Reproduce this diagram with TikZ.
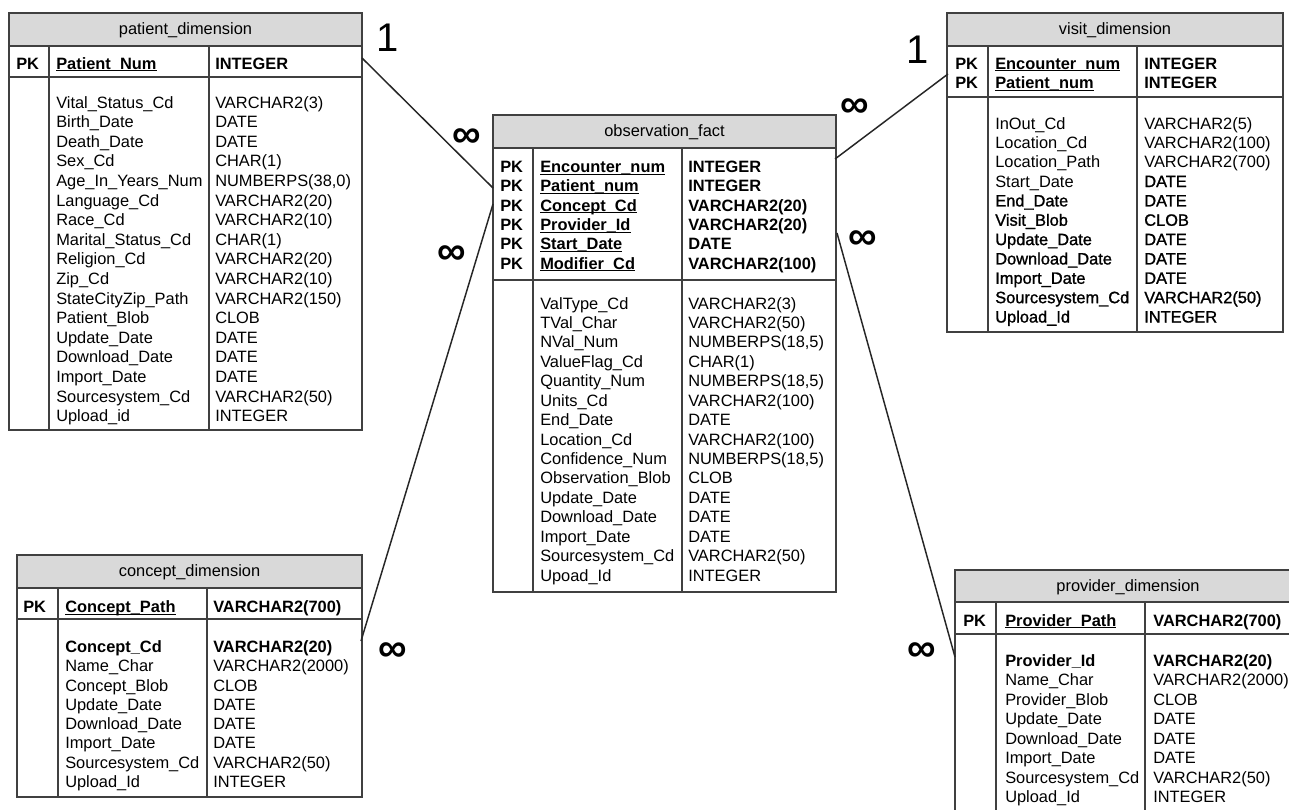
\documentclass[tikz,border=0pt]{standalone}
\usepackage{fontspec}
\setmainfont{Liberation Sans}
\newfontfamily\darkfont[FakeBold=1.2]{Liberation Sans}
\usetikzlibrary{fit}
\newcommand\tbf{\fontsize{12.3}{14}\selectfont}
\newcommand\pkul[1]{\setbox0\hbox{#1}\rlap{\rule[-1.4pt]{\wd0}{0.6pt}}\box0}
\definecolor{hdrgray}{HTML}{D9D9D9}
\definecolor{edgegray}{HTML}{404040}
\tikzset{
 tbox/.style={draw=edgegray, line width=1.1pt, inner sep=0pt},
 thead/.style={draw=edgegray, line width=1.1pt, fill=hdrgray, inner sep=0pt},
 ttitle/.style={inner sep=0pt, font=\tbf},
 tline/.style={draw=edgegray, line width=1.1pt},
 cell/.style={anchor=base west, inner sep=0pt, font=\tbf},
 dcell/.style={anchor=base west, inner sep=0pt, font=\darkfont\tbf},
 bcell/.style={anchor=base west, inner sep=0pt, font=\tbf\bfseries},
 conn/.style={draw=black!85, line width=1.1pt},
 mult/.style={font=\fontsize{30}{32}\selectfont, inner sep=0pt},
 multb/.style={font=\fontsize{30}{32}\selectfont\bfseries, inner sep=0pt},
}
% name, x1, y1, x2, y2, yh, yp, d1, d2
\newcommand\erframe[9]{%
 \node[tbox, fit={(#2,#3)(#4,#5)}] (#1) {};
 \draw[tline] (#2,#7) -- (#4,#7);
 \draw[tline] (#8,#6) -- (#8,#5);
 \draw[tline] (#9,#6) -- (#9,#5);
}
% prefix, style, xn, xt, y0, dy, list
\newcommand\erows[7]{\foreach \nm/\ty [count=\i from 0] in {#7}{%
  \node[#2] (#1n\i) at (#3,{#5+\i*#6}) {\nm};
  \node[#2] (#1t\i) at (#4,{#5+\i*#6}) {\ty};}}
% prefix, xpk, xn, xt, y0, dy, list
\newcommand\pkrows[7]{\foreach \nm/\ty [count=\i from 0] in {#7}{%
  \node[bcell] (#1k\i) at (#2,{#5+\i*#6}) {PK};
  \node[bcell] (#1n\i) at (#3,{#5+\i*#6}) {\pkul{\nm}};
  \node[bcell] (#1t\i) at (#4,{#5+\i*#6}) {\ty};}}

\begin{document}
\begin{tikzpicture}[x=0.75pt,y=-0.75pt]
\useasboundingbox (0,0) rectangle (1289,810);
\clip (0,0) rectangle (1289,810);
\fill[white] (0,0) rectangle (1289,810);

% patient_dimension
\erframe{patient}{9}{13}{362}{430}{46}{77}{49}{209}
\node[thead, fit={(9,13)(362,46)}] (patienth) {};
\node[ttitle] (patientt) at (185.5,30) {patient\_dimension};
\pkrows{pp}{16}{56}{215}{69}{19.5}{Patient\_Num/INTEGER}
\erows{pa}{cell}{56}{215}{108}{19.6}{Vital\_Status\_Cd/VARCHAR2(3), Birth\_Date/DATE, Death\_Date/DATE, Sex\_Cd/CHAR(1), Age\_In\_Years\_Num/{NUMBERPS(38,0)}, Language\_Cd/VARCHAR2(20), Race\_Cd/VARCHAR2(10), Marital\_Status\_Cd/CHAR(1), Religion\_Cd/VARCHAR2(20), Zip\_Cd/VARCHAR2(10), StateCityZip\_Path/VARCHAR2(150), Patient\_Blob/CLOB, Update\_Date/DATE, Download\_Date/DATE, Import\_Date/DATE, Sourcesystem\_Cd/VARCHAR2(50), Upload\_id/INTEGER}

% observation_fact
\erframe{obs}{493}{115}{836}{592}{148}{280}{533}{682}
\node[thead, fit={(493,115)(836,148)}] (obsh) {};
\node[ttitle] (obst) at (664.5,132) {observation\_fact};
\pkrows{op}{500}{540}{688}{172.5}{19.33}{Encounter\_num/INTEGER, Patient\_num/INTEGER, Concept\_Cd/VARCHAR2(20), Provider\_Id/VARCHAR2(20), Start\_Date/DATE, Modifier\_Cd/VARCHAR2(100)}
\erows{oa}{cell}{540}{688}{309}{19.43}{ValType\_Cd/VARCHAR2(3), TVal\_Char/VARCHAR2(50), NVal\_Num/{NUMBERPS(18,5)}, ValueFlag\_Cd/CHAR(1), Quantity\_Num/{NUMBERPS(18,5)}, Units\_Cd/VARCHAR2(100), End\_Date/DATE, Location\_Cd/VARCHAR2(100), Confidence\_Num/{NUMBERPS(18,5)}, Observation\_Blob/CLOB, Update\_Date/DATE, Download\_Date/DATE, Import\_Date/DATE, Sourcesystem\_Cd/VARCHAR2(50), Upoad\_Id/INTEGER}

% visit_dimension
\erframe{visit}{947}{13}{1283}{332}{46}{97}{988}{1137}
\node[thead, fit={(947,13)(1283,46)}] (visith) {};
\node[ttitle] (visitt) at (1115,30) {visit\_dimension};
\pkrows{vp}{955}{995}{1144}{69}{19.5}{Encounter\_num/INTEGER, Patient\_num/INTEGER}
\erows{va}{cell}{995}{1144}{129}{19.35}{InOut\_Cd/VARCHAR2(5), Location\_Cd/VARCHAR2(100), Location\_Path/VARCHAR2(700)}
\node[cell] (vsn) at (995,187.05) {Start\_Date};
\node[dcell] (vst) at (1144,187.05) {DATE};
\erows{vb}{dcell}{995}{1144}{206.4}{19.35}{End\_Date/DATE, Visit\_Blob/CLOB, Update\_Date/DATE, Download\_Date/DATE, Import\_Date/DATE, Sourcesystem\_Cd/VARCHAR2(50), Upload\_Id/INTEGER}

% concept_dimension
\erframe{concept}{17}{555}{362}{797}{588}{619}{58}{207}
\node[thead, fit={(17,555)(362,588)}] (concepth) {};
\node[ttitle] (conceptt) at (189.5,572) {concept\_dimension};
\pkrows{cp}{23}{65}{213}{612.5}{19.3}{Concept\_Path/VARCHAR2(700)}
\erows{cb}{bcell}{65}{213}{652.5}{19.29}{Concept\_Cd/VARCHAR2(20)}
\erows{ca}{cell}{65}{213}{671.8}{19.29}{Name\_Char/VARCHAR2(2000), Concept\_Blob/CLOB, Update\_Date/DATE, Download\_Date/DATE, Import\_Date/DATE, Sourcesystem\_Cd/VARCHAR2(50), Upload\_Id/INTEGER}

% provider_dimension
\erframe{prov}{955}{570}{1301}{840}{602}{634}{996}{1145}
\node[thead, fit={(955,570)(1301,602)}] (provh) {};
\node[ttitle] (provt) at (1128,587) {provider\_dimension};
\pkrows{rp}{963}{1005}{1153}{626}{19.5}{Provider\_Path/VARCHAR2(700)}
\erows{rb}{bcell}{1005}{1153}{666}{19.5}{Provider\_Id/VARCHAR2(20)}
\erows{ra}{cell}{1005}{1153}{685.5}{19.5}{Name\_Char/VARCHAR2(2000), Provider\_Blob/CLOB, Update\_Date/DATE, Download\_Date/DATE, Import\_Date/DATE, Sourcesystem\_Cd/VARCHAR2(50), Upload\_Id/INTEGER}

% connector end points
\coordinate (patA) at (362,58);
\coordinate (obsA) at (493,188);
\coordinate (conA) at (361,641);
\coordinate (obsB) at (493,204);
\coordinate (obsC) at (835,159);
\coordinate (visA) at (948,74);
\coordinate (obsD) at (837,233);
\coordinate (proA) at (955,657);

\draw[conn] (patA) -- (obsA);
\draw[conn] (conA) -- (obsB);
\draw[conn] (obsC) -- (visA);
\draw[conn] (obsD) -- (proA);

% multiplicities
\node[mult] (m1) at (388,38) {1};
\node[mult] (m2) at (918,50) {1};
\node[multb] (m3) at (467,138) {∞};
\node[multb] (m4) at (452,255) {∞};
\node[multb] (m5) at (855,108) {∞};
\node[multb] (m6) at (863,240) {∞};
\node[multb] (m7) at (393,652) {∞};
\node[multb] (m8) at (922,652) {∞};
\end{tikzpicture}
\end{document}
